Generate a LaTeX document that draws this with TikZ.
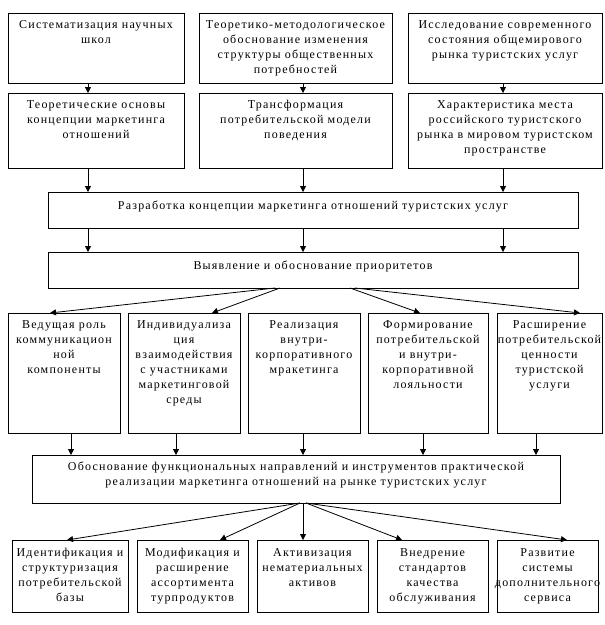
\documentclass[tikz,border=0pt]{standalone}
\usepackage{fontspec}
\setmainfont{Liberation Serif}[LetterSpace=10]
\usetikzlibrary{arrows.meta,calc}
\newcommand\fs{\fontsize{12}{15}\selectfont}
\tikzset{
 box/.style={draw, line width=0.8pt, inner sep=0pt, outer sep=0pt, anchor=north west},
 txt/.style={inner sep=0pt, align=center, anchor=north, font=\fs},
 arr/.style={line width=0.8pt, -{Triangle[length=6pt,width=6pt]}},
}
\newcommand\mkbox[7]{% name x1 y1 x2 y2 textoffset text
 \node[box, minimum width={#4pt-#2pt}, minimum height={#5pt-#3pt}] (#1) at (#2,#3) {};
 \node[txt] (#1t) at ($(#1.north)+(0,#6)$) {\strut #7};
}
\begin{document}
\begin{tikzpicture}[x=1pt,y=-1pt]
\useasboundingbox[fill=white] (0,0) rectangle (605,625);
% row 1
\mkbox{a1}{8}{13}{184}{83}{5}{Систематизация научных\\школ}
\mkbox{a2}{199}{13}{392}{83}{5}{Теоретико-методологическое\\обоснование изменения\\структуры общественных\\потребностей}
\mkbox{a3}{408}{13}{602}{83}{5}{Исследование современного\\состояния общемирового\\рынка туристских услуг}
% row 2
\mkbox{b1}{8}{93}{184}{168}{5}{Теоретические основы\\концепции маркетинга\\отношений}
\mkbox{b2}{199}{93}{392}{168}{5}{Трансформация\\потребительской модели\\поведения}
\mkbox{b3}{408}{93}{602}{168}{5}{Характеристика места\\российского туристского\\рынка в мировом туристском\\пространстве}
% wide boxes
\mkbox{c}{48}{192}{578}{228}{7}{Разработка концепции маркетинга отношений туристских услуг}
\mkbox{d}{48}{252}{578}{288}{7}{Выявление и обоснование приоритетов}
% row 3
\mkbox{e1}{8}{313}{120}{433}{5}{Ведущая роль\\коммуникацион\\ной\\компоненты}
\mkbox{e2}{128}{313}{240}{433}{5}{Индивидуализа\\ция\\взаимодействия\\с участниками\\маркетинговой\\среды}
\mkbox{e3}{248}{313}{360}{433}{5}{Реализация\\внутри-\\корпоративного\\мракетинга}
\mkbox{e4}{368}{313}{488}{433}{5}{Формирование\\потребительской\\и внутри-\\корпоративной\\лояльности}
\mkbox{e5}{497}{313}{602}{433}{5}{Расширение\\потребительской\\ценности\\туристской\\услуги}
% wide box
\mkbox{f}{32}{455}{560}{503}{5}{Обоснование функциональных направлений и инструментов практической\\реализации маркетинга отношений на рынке туристских услуг}
% bottom row
\mkbox{g1}{12}{540}{128}{612}{6}{Идентификация и\\структуризация\\потребительской\\базы}
\mkbox{g2}{137}{540}{248}{612}{6}{Модификация и\\расширение\\ассортимента\\турпродуктов}
\mkbox{g3}{257}{540}{368}{612}{6}{Активизация\\нематериальных\\активов}
\mkbox{g4}{377}{540}{488}{612}{6}{Внедрение\\стандартов\\качества\\обслуживания}
\mkbox{g5}{497}{540}{598}{612}{6}{Развитие\\системы\\дополнительного\\сервиса}
% x positions
\coordinate (v1) at (88,0);
\coordinate (v2) at (303,0);
\coordinate (v3) at (503,0);
\draw[arr] (a1.south -| v1) -- (b1.north -| v1);
\draw[arr] (a2.south -| v2) -- (b2.north -| v2);
\draw[arr] (a3.south -| v3) -- (b3.north -| v3);
\draw[arr] (b1.south -| v1) -- (c.north -| v1);
\draw[arr] (b2.south -| v2) -- (c.north -| v2);
\draw[arr] (b3.south -| v3) -- (c.north -| v3);
\draw[arr] (c.south -| v1) -- (d.north -| v1);
\draw[arr] (c.south -| v2) -- (d.north -| v2);
\draw[arr] (c.south -| v3) -- (d.north -| v3);
% fan 1
\coordinate (s1) at (275,0);
\coordinate (s2) at (280,0);
\coordinate (s3) at (350,0);
\coordinate (s4) at (355,0);
\coordinate (t1) at (50,0);
\coordinate (t2) at (212,0);
\coordinate (t4) at (420,0);
\coordinate (t5) at (580,0);
\draw[arr] (d.south -| s1) -- (e1.north -| t1);
\draw[arr] (d.south -| s2) -- (e2.north -| t2);
\draw[arr] (d.south -| s3) -- (e4.north -| t4);
\draw[arr] (d.south -| s4) -- (e5.north -| t5);
% row 3 to f
\coordinate (w1) at (71,0);
\coordinate (w2) at (176,0);
\coordinate (w3) at (303,0);
\coordinate (w4) at (423,0);
\coordinate (w5) at (536,0);
\draw[arr] (e1.south -| w1) -- (f.north -| w1);
\draw[arr] (e2.south -| w2) -- (f.north -| w2);
\draw[arr] (e3.south -| w3) -- (f.north -| w3);
\draw[arr] (e4.south -| w4) -- (f.north -| w4);
\draw[arr] (e5.south -| w5) -- (f.north -| w5);
% fan 2
\coordinate (o1) at (300,0);
\coordinate (o2) at (303,0);
\coordinate (o3) at (306,0);
\coordinate (u1) at (67,0);
\coordinate (u2) at (220,0);
\coordinate (u3) at (303,0);
\coordinate (u4) at (402,0);
\coordinate (u5) at (567,0);
\draw[arr] (f.south -| o1) -- (g1.north -| u1);
\draw[arr] (f.south -| o1) -- (g2.north -| u2);
\draw[arr] (f.south -| o2) -- (g3.north -| u3);
\draw[arr] (f.south -| o3) -- (g4.north -| u4);
\draw[arr] (f.south -| o3) -- (g5.north -| u5);
\end{tikzpicture}
\end{document}
